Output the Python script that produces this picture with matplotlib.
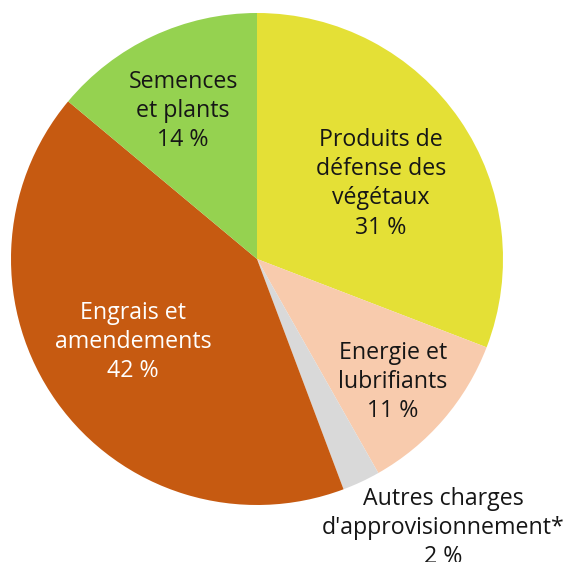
import matplotlib
matplotlib.use("Agg")
import matplotlib.pyplot as plt

labels = ["Produits de\ndéfense des\nvégétaux", "Energie et\nlubrifiants",
          "Autres charges\nd'approvisionnement*", "Engrais et\namendements", "Semences\net plants"]
values = [31, 11, 2.5, 42, 14]
pct_labels = ["31 %", "11 %", "2 %", "42 %", "14 %"]
colors = ["#E4E036", "#F8CBAD", "#D9D9D9", "#C65A11", "#95D250"]
text_colors = ["#161616", "#161616", "#161616", "white", "#161616"]
label_pos = [(0.504, 0.305), (0.553, -0.50), (0.756, -1.093), (-0.504, -0.337), (-0.30, 0.60)]

plt.rcParams['font.family'] = ['Open Sans', 'DejaVu Sans']
fig = plt.figure(figsize=(5.69, 5.62), dpi=100)
W, H = 569, 562
cx, cy, r = 257, 259, 246
ax = fig.add_axes([(cx - r) / W, (H - cy - r) / H, 2 * r / W, 2 * r / H])
ax.pie(values, colors=colors, startangle=90, counterclock=False, radius=1,
       wedgeprops=dict(linewidth=0))
ax.set_xlim(-1, 1)
ax.set_ylim(-1, 1)
ax.set_aspect('equal')
ax.axis('off')
for lab, p, pos, tc in zip(labels, pct_labels, label_pos, text_colors):
    ax.text(pos[0], pos[1], lab + "\n" + p, ha='center', va='center', fontsize=16.7,
            color=tc, linespacing=1.28, clip_on=False)
fig.savefig("out.png", dpi=100)
